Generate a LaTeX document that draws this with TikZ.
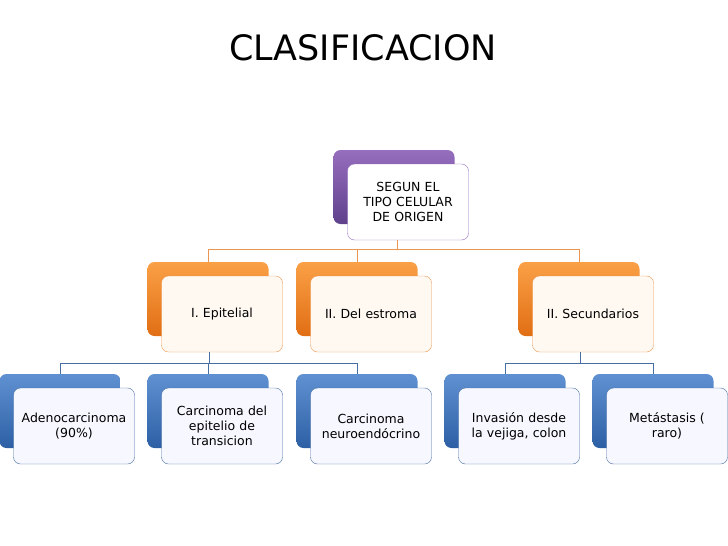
\documentclass[tikz,border=0pt]{standalone}
\usepackage{fontspec}
\setmainfont{DejaVu Sans}
\usetikzlibrary{positioning}

\definecolor{purpleTop}{RGB}{150,110,190}
\definecolor{purpleBot}{RGB}{95,65,140}
\definecolor{orangeTop}{RGB}{250,160,70}
\definecolor{orangeBot}{RGB}{225,110,20}
\definecolor{blueTop}{RGB}{95,145,210}
\definecolor{blueBot}{RGB}{45,95,165}
\definecolor{orangeLine}{RGB}{235,150,80}
\definecolor{blueLine}{RGB}{70,110,160}

\begin{document}
\begin{tikzpicture}[%
    x=1pt, y=-1pt,
    back/.style={%
        rounded corners=7pt,
        minimum width=121pt,
        minimum height=74pt,
        inner sep=0pt
    },
    rootBack/.style={%
        back,
        top color=purpleTop,
        bottom color=purpleBot
    },
    midBack/.style={%
        back,
        top color=orangeTop,
        bottom color=orangeBot
    },
    lowBack/.style={%
        back,
        top color=blueTop,
        bottom color=blueBot
    },
    front/.style={%
        draw,
        rounded corners=7pt,
        minimum width=121pt,
        minimum height=76pt,
        inner sep=1pt,
        align=center,
        text width=119pt,
        font=\fontsize{12.5}{15}\selectfont
    },
    rootFront/.style={%
        front,
        draw=purpleTop,
        fill=white
    },
    midFront/.style={%
        front,
        draw=orangeLine,
        fill=orange!5
    },
    lowFront/.style={%
        front,
        draw=blueLine,
        fill=blue!3
    },
    link/.style={line width=0.8pt}
]

\useasboundingbox (0,0) rectangle (728,546);

% Title
\node[font=\fontsize{35}{40}\selectfont] (title) at (363,48) {CLASIFICACION};

% Root
\node[rootBack] (rootB) at (394,187) {};
\node[rootFront] (root) at (408,202) {SEGUN EL\\TIPO CELULAR\\DE ORIGEN};

% Second level
\node[midBack] (epiB) at (208,299) {};
\node[midFront] (epi) at (222,314) {I. Epitelial};
\node[midBack] (estB) at (357,299) {};
\node[midFront] (est) at (371,314) {II. Del estroma};
\node[midBack] (secB) at (579,299) {};
\node[midFront] (sec) at (593,314) {II. Secundarios};

% Third level
\node[lowBack] (adeB) at (60,411) {};
\node[lowFront] (ade) at (74,426) {Adenocarcinoma\\(90\%)};
\node[lowBack] (traB) at (208,411) {};
\node[lowFront] (tra) at (222,426) {Carcinoma del\\epitelio de\\transicion};
\node[lowBack] (neuB) at (357,411) {};
\node[lowFront] (neu) at (371,426) {Carcinoma\\neuroendócrino};
\node[lowBack] (invB) at (505,411) {};
\node[lowFront] (inv) at (519,426) {Invasión desde\\la vejiga, colon};
\node[lowBack] (metB) at (653,411) {};
\node[lowFront] (met) at (667,426) {Metástasis (\\raro)};

% Connectors
\coordinate (rootJ) at (397,249);
\coordinate (epiJ) at (209,363);
\coordinate (secJ) at (580,363);

\draw[link, orangeLine] (root.south -| rootJ) -- (rootJ);
\draw[link, orangeLine] (rootJ) -| (epiB.north);
\draw[link, orangeLine] (rootJ) -| (estB.north);
\draw[link, orangeLine] (rootJ) -| (secB.north);

\draw[link, blueLine] (epi.south -| epiJ) -- (epiJ);
\draw[link, blueLine] (epiJ) -| (adeB.north);
\draw[link, blueLine] (epiJ) -| (traB.north);
\draw[link, blueLine] (epiJ) -| (neuB.north);

\draw[link, blueLine] (sec.south -| secJ) -- (secJ);
\draw[link, blueLine] (secJ) -| (invB.north);
\draw[link, blueLine] (secJ) -| (metB.north);

\end{tikzpicture}
\end{document}
